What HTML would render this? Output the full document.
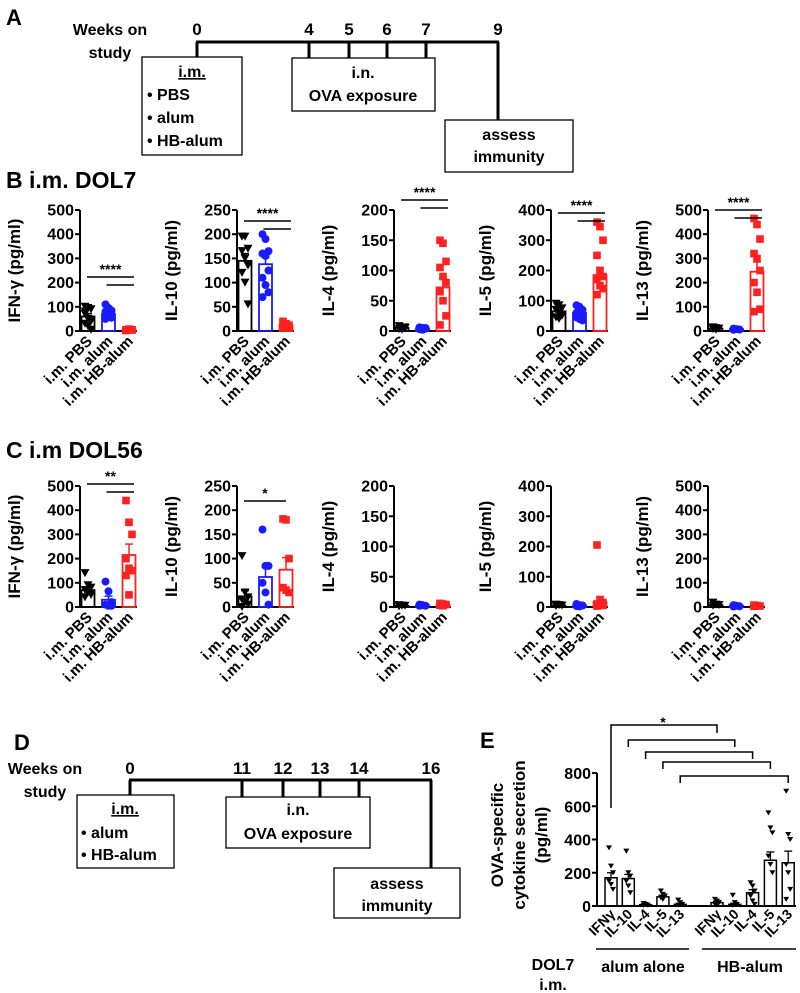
<!DOCTYPE html>
<html><head><meta charset="utf-8"><style>
html,body{margin:0;padding:0;background:#fff;}
svg{display:block;font-family:"Liberation Sans",Arial,sans-serif;font-weight:bold;}
</style></head><body>
<svg id="fig" width="800" height="993" viewBox="0 0 800 993" xmlns="http://www.w3.org/2000/svg"></svg>
<script>
// ===== Data =====
const groups = ["i.m. PBS","i.m. alum","i.m. HB-alum"];
const cytokines = ["IFN-\u03B3","IL-10","IL-4","IL-5","IL-13"];
const axisMax = [500,250,200,400,500];
const tickLists = [[0,100,200,300,400,500],[0,50,100,150,200,250],[0,50,100,150,200],[0,100,200,300,400],[0,100,200,300,400,500]];
// Panel B means / sem / points
const bMeans = [[60,70,5],[145,138,12],[5,4,72],[65,60,185],[10,8,245]];
const bSem = [[12,8,1],[15,14,2],[1,1,15],[6,6,25],[2,1,40]];
const bPts = [
 [[100,95,90,70,50,40,30,20,5,80],[110,95,85,80,75,70,65,60,55,50],[5,6,4,3,8,5,2,6]],
 [[195,195,170,165,150,135,120,100,55],[200,190,165,160,155,125,110,95,80,70],[20,15,12,10,8,6]],
 [[8,5,4,3,2,6],[6,5,4,3,2,5],[150,145,115,105,90,80,65,50,25,10]],
 [[90,85,75,70,60,50,45,40],[85,80,70,60,55,50,45,40,35],[360,345,300,250,200,180,170,150,140,120]],
 [[15,12,10,8,5],[10,8,6,5],[465,440,380,320,300,250,200,160,90,80]]
];
// Panel C
const cMeans = [[70,30,215],[22,62,77],[2,3,4],[5,5,15],[8,5,5]];
const cSem = [[12,15,45],[12,20,25],[1,1,1],[1,1,20],[2,1,1]];
const cPts = [
 [[140,90,80,70,60,50,40],[105,65,20,10,5,5],[440,350,300,200,160,150,130,50]],
 [[105,30,20,15,10,5,0],[160,85,85,50,30,5],[182,180,100,40,35,30]],
 [[3,2,2,1],[4,3,2,2],[6,5,4,3,2]],
 [[8,6,5,3],[10,6,5,3,2],[205,20,15,10,8,5,3]],
 [[18,10,8,5],[8,5,3,2],[8,6,4,3]]
];
// Panel E
const eCats = ["IFN\u03B3","IL-10","IL-4","IL-5","IL-13"];
const eAlumMeans = [170,165,8,55,10];
const eHBMeans = [20,10,80,275,260];
const eAlumSem = [30,25,2,10,4];
const eHBSem = [8,6,18,50,70];
const eAlumPts = [[350,240,200,150,130,100],[330,200,180,150,120,80],[15,10,5,3],[90,70,60,50,40],[35,20,10,5]];
const eHBPts = [[40,30,20,10,5],[65,20,10,5],[140,120,90,60,30,10],[560,470,440,300,250,200],[690,430,400,250,200,100,40]];

const NS="http://www.w3.org/2000/svg";
const svg=document.getElementById('fig');
function el(tag,attrs,parent){const e=document.createElementNS(NS,tag);for(const k in attrs)e.setAttribute(k,attrs[k]);(parent||svg).appendChild(e);return e;}
function txt(s,attrs,parent){const e=el('text',attrs,parent);e.textContent=s;return e;}
const colors=["#000","#1a1aff","#ff2020"];

function marker(g,type,x,y,c){
  let m;
  if(type===0){m=el('path',{d:`M${x-4.5},${y-4} L${x+4.5},${y-4} L${x},${y+4} Z`,fill:c},g);}
  else if(type===1){m=el('circle',{cx:x,cy:y,r:4,fill:c},g);}
  else {m=el('rect',{x:x-3.8,y:y-3.8,width:7.6,height:7.6,fill:c},g);}
  
  
}

function cytoChart(idx,ax,base,h,means,sems,pts,label,sig,panel){
  const g=el('g',{},svg);
  
  
  const max=axisMax[idx];
  const y=v=>base-v/max*h;
  const bx=i=>ax+8+i*20.5;
  el('line',{x1:ax,y1:y(max),x2:ax,y2:base+0.5,stroke:'#000','stroke-width':2},g);
  el('line',{x1:ax-0.5,y1:base,x2:ax+57,y2:base,stroke:'#000','stroke-width':2},g);
  tickLists[idx].forEach(t=>{
    el('line',{x1:ax-5,y1:y(t),x2:ax,y2:y(t),stroke:'#000','stroke-width':2},g);
    const tl=txt(String(t),{x:ax-6,y:y(t)+5.5,'text-anchor':'end','font-size':16},g);
    
    
  });
  const yt=txt(label+' (pg/ml)',{transform:`translate(${ax-60},${base-h/2}) rotate(-90)`,'text-anchor':'middle','font-size':17},g);
  
  
  for(let i=0;i<3;i++){
    const c=colors[i],cx=bx(i);
    const b=el('rect',{x:cx-6.5,y:y(means[i]),width:13,height:base-y(means[i]),fill:'none',stroke:c,'stroke-width':1.8},g);
    
    
    pts[i].forEach((v,j)=>marker(g,i,cx+((j%3)-1)*3,y(v),c));
    const top=y(means[i]+sems[i]);
    el('line',{x1:cx,y1:y(means[i]),x2:cx,y2:top,stroke:c,'stroke-width':1.5},g);
    el('line',{x1:cx-4,y1:top,x2:cx+4,y2:top,stroke:c,'stroke-width':1.5},g);
    const xl=txt(groups[i],{transform:`translate(${cx+5},${base+11}) rotate(-45)`,'text-anchor':'end','font-size':15},g);
    
    
  }
  if(sig){
    const ly=sig.y, s=sig.s;
    el('line',{x1:sig.from,y1:ly,x2:bx(2)+5,y2:ly,stroke:'#000','stroke-width':1.5},g);
    if(sig.short) el('line',{x1:bx(1)-2,y1:ly+8,x2:bx(2)+5,y2:ly+8,stroke:'#000','stroke-width':1.5},g);
    const st=txt(s,{x:(sig.from+bx(2)+5)/2,y:ly-3,'text-anchor':'middle','font-size':14},g);
    
    
  }
}

function label(s,x,y,size,name){const t=txt(s,{x:x,y:y,'font-size':size});return t;}
label('A',6,25,22,'panel-a-label');
label('B  i.m. DOL7',6,188,23,'panel-b-title');
label('C i.m DOL56',6,458,23,'panel-c-title');
label('D',14,750,22,'panel-d-label');
label('E',480,748,22,'panel-e-label');

const axB=[80,237,394,551,708];
const bSigY=[277,221,200,213,210];
for(let i=0;i<5;i++){
  const ax=axB[i];
  cytoChart(i,ax,331,121,bMeans[i],bSem[i],bPts[i],cytokines[i],{y:bSigY[i],from:ax+7,s:'****',short:true},'panel-b');
}
for(let i=0;i<5;i++){
  const ax=axB[i];
  let sig=null;
  if(i===0) sig={y:484,from:ax+7,s:'**',short:true};
  cytoChart(i,ax,607,121,cMeans[i],cSem[i],cPts[i],cytokines[i],sig,'panel-c');
}
(function(){const ax=axB[1];el('line',{x1:ax+7,y1:501,x2:ax+49,y2:501,stroke:'#000','stroke-width':1.5});const t=txt('*',{x:ax+28,y:498,'text-anchor':'middle','font-size':14});})();

function timeline(prefix,lineY,xs,labels,labY,wx,wy1,wy2,boxes){
  const g=el('g',{});
  
  
  txt('Weeks on',{x:wx,y:wy1,'text-anchor':'middle','font-size':16},g);
  txt('study',{x:wx,y:wy2,'text-anchor':'middle','font-size':16},g);
  el('line',{x1:xs[0]-1,y1:lineY,x2:xs[xs.length-1]+1,y2:lineY,stroke:'#000','stroke-width':3},g);
  xs.forEach((x,i)=>{txt(labels[i],{x:x,y:labY,'text-anchor':'middle','font-size':17},g);});
  boxes.forEach(b=>{
    el('rect',{x:b.x,y:b.y,width:b.w,height:b.h,fill:'#fff',stroke:'#000','stroke-width':1.3},g);
    b.lines.forEach(l=>{txt(l.t,{x:l.x,y:l.y,'text-anchor':l.a||'middle','font-size':16,'text-decoration':l.u?'underline':'none'},g);});
  });
  return g;
}
const aX=[197,309,349,387,426,498];
const gA=timeline('panel-a',42,aX,['0','4','5','6','7','9'],35,110,35,58,[
 {x:142,y:57,w:100,h:98,lines:[{t:'i.m.',x:192,y:77,u:1},{t:'\u2022 PBS',x:147,y:100,a:'start'},{t:'\u2022 alum',x:147,y:123,a:'start'},{t:'\u2022 HB-alum',x:147,y:146,a:'start'}]},
 {x:292,y:58,w:143,h:53,lines:[{t:'i.n.',x:363,y:78},{t:'OVA exposure',x:363,y:101}]},
 {x:445,y:120,w:128,h:52,lines:[{t:'assess',x:509,y:140},{t:'immunity',x:509,y:162}]}
]);
[[197,42,57],[309,42,58],[349,42,58],[387,42,58],[426,42,58],[498,42,120]].forEach(v=>el('line',{x1:v[0],y1:v[1],x2:v[0],y2:v[2],stroke:'#000','stroke-width':3},gA));
const dX=[130,242,283,320,359,431];
const gD=timeline('panel-d',780,dX,['0','11','12','13','14','16'],774,45,774,797,[
 {x:77,y:795,w:97,h:73,lines:[{t:'i.m.',x:125,y:814,u:1},{t:'\u2022 alum',x:81,y:838,a:'start'},{t:'\u2022 HB-alum',x:81,y:860,a:'start'}]},
 {x:226,y:797,w:144,h:51,lines:[{t:'i.n.',x:298,y:815},{t:'OVA exposure',x:298,y:839}]},
 {x:334,y:868,w:126,h:50,lines:[{t:'assess',x:397,y:889},{t:'immunity',x:397,y:911}]}
]);
[[130,780,795],[242,780,797],[283,780,797],[320,780,797],[359,780,797],[431,780,868]].forEach(v=>el('line',{x1:v[0],y1:v[1],x2:v[0],y2:v[2],stroke:'#000','stroke-width':3},gD));

(function(){
  const g=el('g',{});
  
  
  const ax=597,base=906,h=133,max=800;
  const y=v=>base-v/max*h;
  const xA=i=>611+i*17.3, xH=i=>717+i*17.8;
  el('line',{x1:ax,y1:y(800),x2:ax,y2:base+0.5,stroke:'#000','stroke-width':2},g);
  el('line',{x1:ax-0.5,y1:base,x2:796,y2:base,stroke:'#000','stroke-width':2},g);
  [0,200,400,600,800].forEach(t=>{
    el('line',{x1:ax-5,y1:y(t),x2:ax,y2:y(t),stroke:'#000','stroke-width':2},g);
    const tl=txt(String(t),{x:ax-6,y:y(t)+6,'text-anchor':'end','font-size':16},g);
    
    
  });
  ['OVA-specific','cytokine secretion','(pg/ml)'].forEach((s,i)=>{
    const t=txt(s,{transform:`translate(${503+i*22},${835}) rotate(-90)`,'text-anchor':'middle','font-size':17},g);
    
    
  });
  function bars(xf,means,sems,pts,name){
    means.forEach((m,i)=>{
      const cx=xf(i);
      const b=el('rect',{x:cx-6,y:y(m),width:12,height:base-y(m),fill:'none',stroke:'#000','stroke-width':1.5},g);
      
      
      pts[i].forEach((v,j)=>{const p=el('path',{d:`M${cx-3+(j%3-1)*2},${y(v)-2.5} h6 l-3,5 z`,fill:'#000'},g);});
      const top=y(m+sems[i]);
      el('line',{x1:cx,y1:y(m),x2:cx,y2:top,stroke:'#000','stroke-width':1.3},g);
      el('line',{x1:cx-4,y1:top,x2:cx+4,y2:top,stroke:'#000','stroke-width':1.3},g);
      const xl=txt(eCats[i],{transform:`translate(${cx+5},${base+9}) rotate(-45)`,'text-anchor':'end','font-size':14},g);
      
      
    });
  }
  bars(xA,eAlumMeans,eAlumSem,eAlumPts,'alum');
  bars(xH,eHBMeans,eHBSem,eHBPts,'hb-alum');
  const br=[[0,725,808,733],[1,740,747,747],[2,752,759,759],[3,762,769,769],[4,776,783,783]];
  br.forEach(b=>{
    const x1=xA(b[0]),x2=xH(b[0]);
    const p=el('path',{d:`M${x1},${b[2]} V${b[1]} H${x2} V${b[3]}`,fill:'none',stroke:'#000','stroke-width':1.5},g);
    
    
  });
  txt('*',{x:663,y:727,'text-anchor':'middle','font-size':14},g);
  el('line',{x1:596,y1:949,x2:689,y2:949,stroke:'#000','stroke-width':1.5},g);
  el('line',{x1:702,y1:949,x2:796,y2:949,stroke:'#000','stroke-width':1.5},g);
  txt('alum alone',{x:643,y:972,'text-anchor':'middle','font-size':16},g);
  txt('HB-alum',{x:750,y:972,'text-anchor':'middle','font-size':16},g);
  txt('DOL7',{x:553,y:970,'text-anchor':'middle','font-size':16},g);
  txt('i.m.',{x:553,y:990,'text-anchor':'middle','font-size':16},g);
})();
</script>
</body></html>
